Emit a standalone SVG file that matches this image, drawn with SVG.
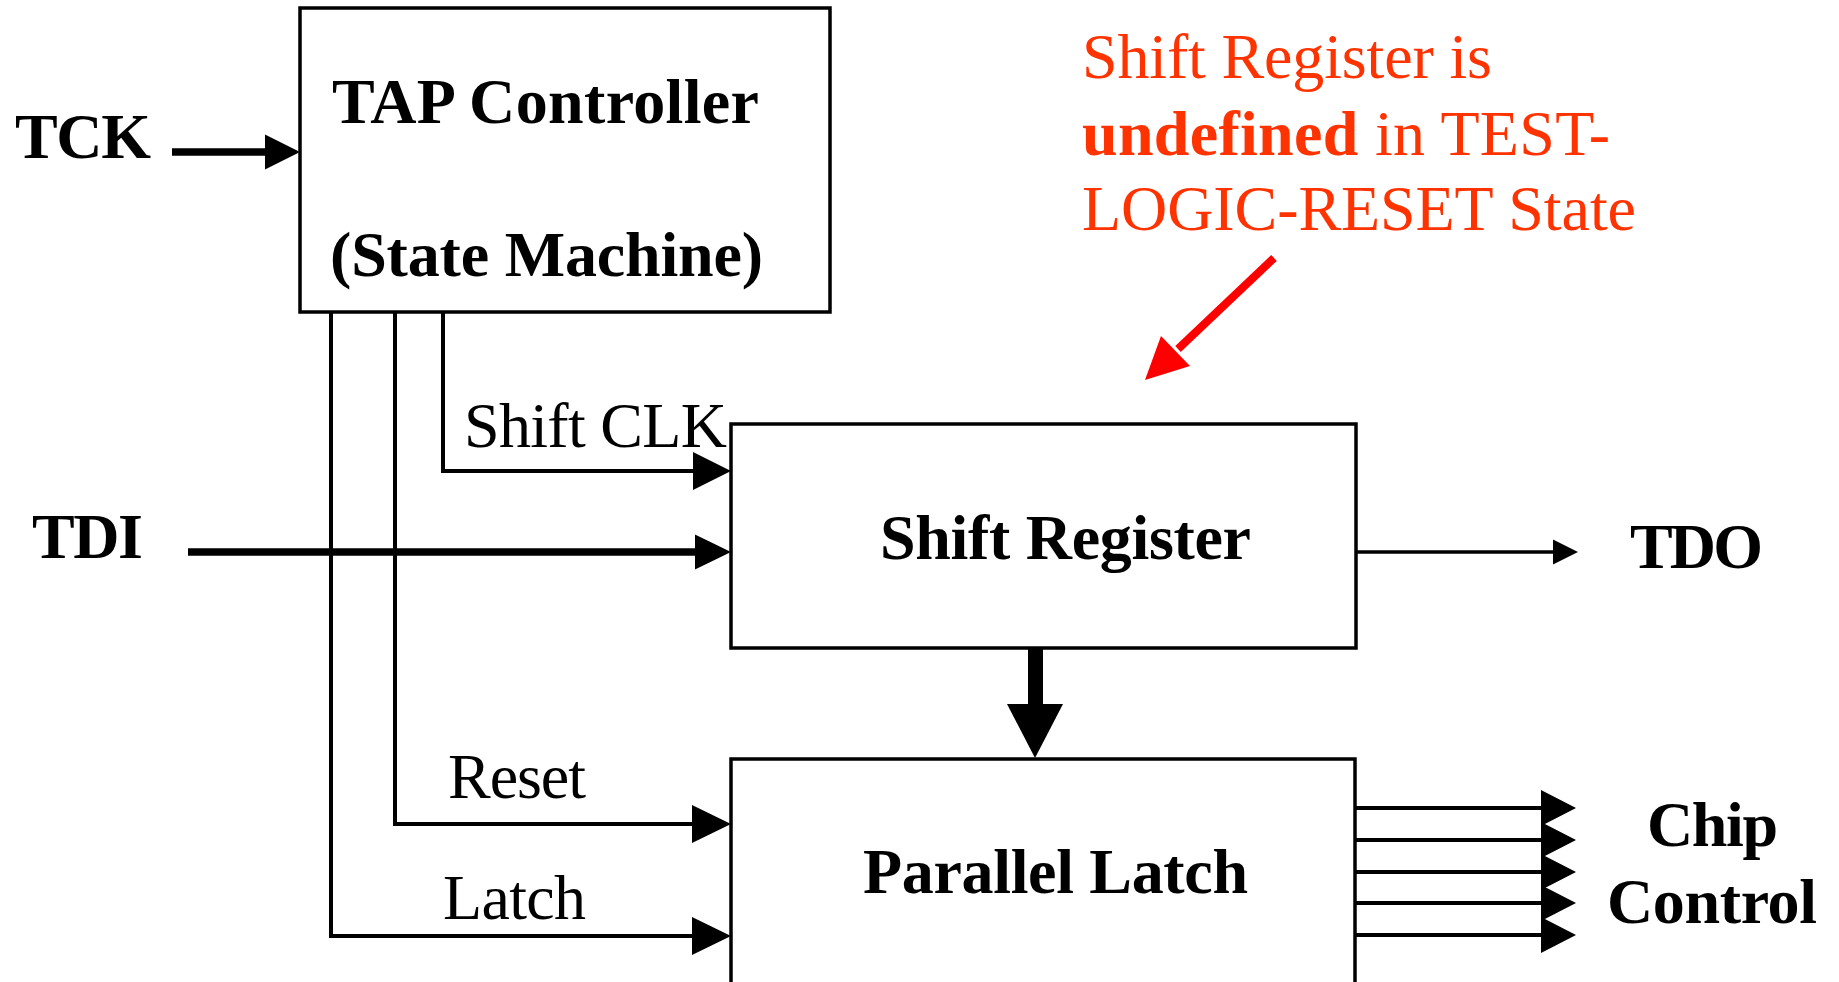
<svg xmlns="http://www.w3.org/2000/svg" width="1839" height="982" viewBox="0 0 1839 982">
  <style>
    .box { fill: #ffffff; stroke: #000000; stroke-width: 3.5; }
    .t { font-family: "Liberation Serif", "Times New Roman", serif; font-size: 64px; fill: #000000; }
    .b { font-weight: bold; }
    .red { fill: #FF3300; }
    .wire { stroke: #000000; stroke-width: 4; fill: none; }
    .thick { stroke: #000000; stroke-width: 7.5; fill: none; }
    .head { fill: #000000; stroke: none; }
  </style>
  <rect width="1839" height="982" fill="#ffffff"/>

  <g id="connectors">
    <!-- TCK -->
    <line class="thick" x1="172" y1="152" x2="266" y2="152"/>
    <polygon class="head" points="265,134.5 300,152 265,169.5"/>
    <!-- vertical control wires -->
    <polyline class="wire" points="443,312 443,471 694,471"/>
    <polygon class="head" points="693,452 731,471 693,490"/>
    <polyline class="wire" points="395,312 395,824 693,824"/>
    <polygon class="head" points="692,805 731,824 692,843"/>
    <polyline class="wire" points="331,312 331,936 693,936"/>
    <polygon class="head" points="692,917 731,936 692,955"/>
    <!-- TDI -->
    <line class="thick" x1="188" y1="552" x2="696" y2="552"/>
    <polygon class="head" points="695,534.5 731,552 695,569.5"/>
    <!-- TDO -->
    <line stroke="#000" stroke-width="3.5" x1="1356" y1="552" x2="1554" y2="552"/>
    <polygon class="head" points="1553,539.5 1578,552 1553,564.5"/>
    <!-- SR to latch -->
    <rect x="1028" y="648" width="15" height="58" fill="#000"/>
    <polygon class="head" points="1007,704 1063,704 1035,758"/>
    <!-- chip control outputs -->
    <line class="wire" x1="1355" y1="808" x2="1542" y2="808"/>
    <polygon class="head" points="1541,790 1576,808 1541,826"/>
    <line class="wire" x1="1355" y1="840" x2="1542" y2="840"/>
    <polygon class="head" points="1541,822 1576,840 1541,858"/>
    <line class="wire" x1="1355" y1="872" x2="1542" y2="872"/>
    <polygon class="head" points="1541,854 1576,872 1541,890"/>
    <line class="wire" x1="1355" y1="903" x2="1542" y2="903"/>
    <polygon class="head" points="1541,885 1576,903 1541,921"/>
    <line class="wire" x1="1355" y1="935" x2="1542" y2="935"/>
    <polygon class="head" points="1541,917 1576,935 1541,953"/>
    <!-- red annotation arrow -->
    <line stroke="#FF0000" stroke-width="8" x1="1274" y1="258" x2="1178" y2="349"/>
    <polygon fill="#FF0000" points="1145,380 1161,336 1190,366"/>
  </g>

  <g id="tap-controller">
    <rect class="box" x="300" y="8" width="530" height="304"/>
    <text class="t b" x="332" y="123" textLength="427">TAP Controller</text>
    <text class="t b" x="330" y="276" textLength="433">(State Machine)</text>
  </g>

  <g id="shift-register">
    <rect class="box" x="731" y="424" width="625" height="224"/>
    <text class="t b" x="880" y="559" textLength="371">Shift Register</text>
  </g>

  <g id="parallel-latch">
    <rect class="box" x="731" y="759" width="624" height="260"/>
    <text class="t b" x="863" y="893" textLength="385">Parallel Latch</text>
  </g>

  <g id="labels">
    <text class="t b" x="15" y="158" textLength="136">TCK</text>
    <text class="t b" x="32" y="558" textLength="111">TDI</text>
    <text class="t b" x="1630" y="568" textLength="133">TDO</text>
    <text class="t" x="464" y="447" textLength="263">Shift CLK</text>
    <text class="t" x="448" y="798" textLength="138">Reset</text>
    <text class="t" x="443" y="919" textLength="143">Latch</text>
    <text class="t b" x="1647" y="846" textLength="131">Chip</text>
    <text class="t b" x="1607" y="923" textLength="210">Control</text>
  </g>

  <g id="annotation">
    <text class="t red" x="1082" y="78" textLength="410">Shift Register is</text>
    <text class="t red" x="1082" y="155" textLength="528"><tspan font-weight="bold">undefined</tspan> in TEST-</text>
    <text class="t red" x="1082" y="230" textLength="554">LOGIC-RESET State</text>
  </g>
</svg>
